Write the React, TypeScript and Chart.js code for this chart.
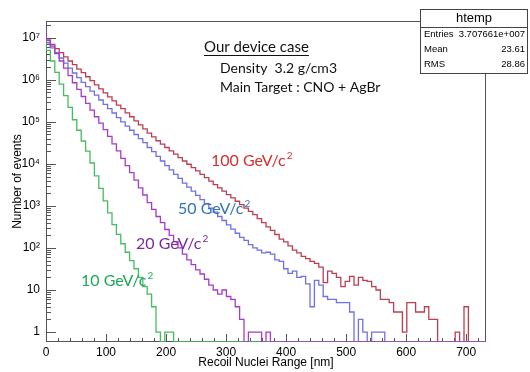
import { useEffect, useRef } from 'react';
import { Chart, registerables } from 'chart.js';

Chart.register(...registerables);

// ---- axis ranges ----
const X_MAX = 733;
const N_BINS = 100;
const Y_MIN = 0.58;
const Y_MAX = 2.5e7;

// ---- tick labels ----
const xTickValues = [0, 100, 200, 300, 400, 500, 600, 700];
const yTickValues = [1, 10, 1e2, 1e3, 1e4, 1e5, 1e6, 1e7];
const yTickLabels = ['1', '10', '10²', '10³', '10⁴', '10⁵', '10⁶', '10⁷'];

// ---- histogram bin contents (counts per bin, bins of 7.33 nm) ----
const counts100GeV = [
  1.05e7, 8.5e6, 6.9e6, 5.5e6, 4.4e6, 3.5e6, 2.8e6, 2.3e6, 1.8e6, 1.48e6,
  1.18e6, 9.5e5, 7.6e5, 6.1e5, 4.9e5, 3.9e5, 3.15e5, 2.5e5, 2.05e5, 1.63e5,
  1.32e5, 1.05e5, 8.5e4, 6.8e4, 5.4e4, 4.4e4, 3.55e4, 2.95e4, 2.45e4, 2.04e4,
  1.7e4, 1.41e4, 1.17e4, 9800, 8100, 6800, 5600, 4700, 3900, 3200,
  2700, 2250, 1860, 1550, 1290, 1070, 890, 740, 620, 500,
  400, 316, 263, 209, 162, 140, 112, 89, 76, 63,
  56, 48, 43, 35, 15, 28, 25, 20, 12, 16,
  21, 13, 20, 17, 16, 12, 10, 6, 6, 5,
  3, 3, 1, 5, 5, 3, 3, 4, 2, 2,
  0, 0, 0, 0, 1, 0, 4, 0, 0, 0,
];

const counts50GeV = [
  1.0e7, 7.6e6, 5.75e6, 4.4e6, 3.3e6, 2.5e6, 1.9e6, 1.45e6, 1.12e6, 8.7e5,
  6.9e5, 5.4e5, 4.3e5, 3.3e5, 2.6e5, 2.05e5, 1.62e5, 1.26e5, 1.0e5, 7.9e4,
  6.3e4, 5.0e4, 4.0e4, 3.2e4, 2.45e4, 1.95e4, 1.5e4, 1.17e4, 9100, 7200,
  5600, 4500, 3500, 2800, 2240, 1780, 1410, 1120, 890, 710,
  560, 450, 355, 280, 224, 178, 151, 120, 100, 89,
  76, 79, 71, 52, 48, 32, 25, 28, 20, 21,
  14, 4, 17, 13, 7, 6, 6, 5, 5, 5,
  3, 0, 2, 1, 0, 1, 1, 1,
];

const counts20GeV = [
  1.6e7, 8.9e6, 6.3e6, 4.2e6, 2.8e6, 1.9e6, 1.26e6, 8.5e5, 5.9e5, 4.0e5,
  2.75e5, 1.9e5, 1.32e5, 9.3e4, 6.5e4, 4.5e4, 3.0e4, 2.04e4, 1.35e4, 9100,
  6200, 4100, 2700, 1820, 1200, 830, 560, 400, 275, 200,
  141, 100, 71, 52, 40, 30, 24, 18, 13, 10,
  8, 10, 7, 6, 4, 2, 0, 1, 1, 1,
  0, 1,
];

const counts10GeV = [
  8.9e6, 5.0e6, 2.8e6, 1.5e6, 7.9e5, 4.2e5, 2.2e5, 1.12e5, 6.3e4, 3.5e4,
  2.0e4, 1.05e4, 5200, 2600, 1320, 680, 360, 210, 126, 79,
  50, 32, 20, 12, 8, 4, 1, 0, 1, 1,
];

const seriesNames = ['20 GeV/c²', '10 GeV/c²', '50 GeV/c²', '100 GeV/c²'];
const seriesCounts = [counts20GeV, counts10GeV, counts50GeV, counts100GeV];
const seriesColors = ['#a63bc9', '#45bd5e', '#6e70e3', '#bb3f50'];

const BIN_W = X_MAX / N_BINS;

function histPoints(counts: number[]) {
  const pts: { x: number; y: number }[] = [];
  for (let i = 0; i < N_BINS; i++) {
    const c = counts[i] ?? 0;
    pts.push({ x: i * BIN_W, y: c > 0 ? c : Y_MIN });
  }
  pts.push({ x: X_MAX, y: pts[pts.length - 1].y });
  return pts;
}

const ROOT_FONT = '"Liberation Sans", Arial, sans-serif';
const PPT_FONT = 'Lato, "Open Sans", sans-serif';

function supText(ctx: CanvasRenderingContext2D, base: string, sup: string, x: number, y: number, size: number, color: string) {
  ctx.fillStyle = color;
  ctx.font = `${size}px ${PPT_FONT}`;
  ctx.textAlign = 'left';
  ctx.textBaseline = 'middle';
  ctx.fillText(base, x, y);
  const w = ctx.measureText(base).width;
  ctx.font = `${Math.round(size * 0.62)}px ${PPT_FONT}`;
  ctx.fillText(sup, x + w + 1, y - size * 0.32);
}

const framePlugin = {
  id: 'rootFrame',
  beforeDatasetsDraw(chart: any) {
    const { ctx, chartArea: a, scales } = chart;
    const xs = scales.x;
    const ys = scales.y;
    ctx.save();
    ctx.strokeStyle = '#555';
    ctx.lineWidth = 1;
    ctx.strokeRect(a.left + 0.5, a.top + 0.5, a.right - a.left - 1, a.bottom - a.top - 1);
    ctx.beginPath();
    for (let d = 0; d <= 7; d++) {
      for (let m = 1; m <= 9; m++) {
        const v = m * Math.pow(10, d);
        if (v < Y_MIN || v > Y_MAX) continue;
        const py = Math.round(ys.getPixelForValue(v)) + 0.5;
        const len = m === 1 ? 10 : 5;
        ctx.moveTo(a.left, py);
        ctx.lineTo(a.left + len, py);
      }
    }
    for (let v = 0; v <= X_MAX; v += 20) {
      const px = Math.round(xs.getPixelForValue(v)) + 0.5;
      const len = v % 100 === 0 ? 8 : 4;
      ctx.moveTo(px, a.bottom);
      ctx.lineTo(px, a.bottom - len);
    }
    ctx.stroke();
    ctx.restore();
  },
  afterDraw(chart: any) {
    const { ctx } = chart;
    ctx.save();
    ctx.fillStyle = '#111';
    ctx.font = `15px ${PPT_FONT}`;
    ctx.textAlign = 'left';
    ctx.textBaseline = 'middle';
    ctx.fillText('Our device case', 204, 47);
    const uw = ctx.measureText('Our device case').width;
    ctx.strokeStyle = '#111';
    ctx.lineWidth = 1;
    ctx.beginPath();
    ctx.moveTo(204, 55.5);
    ctx.lineTo(204 + uw, 55.5);
    ctx.stroke();
    ctx.font = `14px ${PPT_FONT}`;
    ctx.fillText('Density  3.2 g/cm3', 220, 68);
    ctx.fillText('Main Target : CNO + AgBr', 220, 87);

    supText(ctx, '100 GeV/c', '2', 211, 161, 16, '#d42f2f');
    supText(ctx, '50 GeV/c', '2', 178, 209, 16, '#2e75b6');
    supText(ctx, '20 GeV/c', '2', 136, 244, 16, '#7a2a9a');
    supText(ctx, '10 GeV/c', '2', 81, 281, 16, '#1fa85a');

    const bx = 420.5, by = 9.5, bw = 107, bh = 64;
    ctx.fillStyle = '#fff';
    ctx.fillRect(bx, by, bw, bh);
    ctx.strokeStyle = '#444';
    ctx.strokeRect(bx, by, bw, bh);
    ctx.beginPath();
    ctx.moveTo(bx, 27.5);
    ctx.lineTo(bx + bw, 27.5);
    ctx.stroke();
    ctx.fillStyle = '#000';
    ctx.font = `13px ${ROOT_FONT}`;
    ctx.textAlign = 'center';
    ctx.fillText('htemp', bx + bw / 2, 18);
    ctx.font = `9.5px ${ROOT_FONT}`;
    ctx.textAlign = 'left';
    ctx.fillText('Entries', 424, 34);
    ctx.fillText('Mean', 424, 49);
    ctx.fillText('RMS', 424, 64);
    ctx.textAlign = 'right';
    ctx.fillText('3.707661e+007', 525, 34);
    ctx.fillText('23.61', 525, 49);
    ctx.fillText('28.86', 525, 64);
    ctx.restore();
  },
};

export default function App() {
  const ref = useRef<HTMLCanvasElement>(null);
  useEffect(() => {
    if (!ref.current) return;
    const chart = new Chart(ref.current, {
      type: 'line',
      data: {
        datasets: seriesCounts.map((c, i) => ({
          label: seriesNames[i],
          data: histPoints(c),
          borderColor: seriesColors[i],
          borderWidth: 1.3,
          pointRadius: 0,
          stepped: 'after' as const,
          fill: false,
        })),
      },
      options: {
        animation: false,
        responsive: false,
        layout: { padding: { left: 0, right: 44, top: 21, bottom: 0 } },
        plugins: { legend: { display: false }, tooltip: { enabled: false } },
        scales: {
          x: {
            type: 'linear',
            min: 0,
            max: X_MAX,
            afterFit: (s: any) => { s.height = 30; },
            afterBuildTicks: (s: any) => { s.ticks = xTickValues.map((v) => ({ value: v })); },
            grid: { display: false, drawTicks: false },
            border: { display: false },
            ticks: { color: '#000', font: { family: ROOT_FONT, size: 12 }, padding: 3, maxRotation: 0, autoSkip: false },
            title: { display: true, text: 'Recoil Nuclei Range [nm]', color: '#000', font: { family: ROOT_FONT, size: 12 }, padding: { top: 0, bottom: 2 } },
          },
          y: {
            type: 'logarithmic',
            min: Y_MIN,
            max: Y_MAX,
            afterFit: (s: any) => { s.width = 46; },
            afterBuildTicks: (s: any) => { s.ticks = yTickValues.map((v) => ({ value: v })); },
            grid: { display: false, drawTicks: false },
            border: { display: false },
            ticks: { color: '#000', font: { family: ROOT_FONT, size: 12 }, padding: 6, autoSkip: false, callback: (_v: any, i: number) => yTickLabels[i] },
            title: { display: true, text: 'Number of events', color: '#000', font: { family: ROOT_FONT, size: 12 }, padding: { top: 10, bottom: 0 } },
          },
        },
      },
      plugins: [framePlugin],
    });
    return () => chart.destroy();
  }, []);
  return (
    <canvas
      ref={ref}
      width={530}
      height={372}
      style={{ position: 'fixed', left: 0, top: 0, width: 530, height: 372, background: '#fff' }}
    />
  );
}
